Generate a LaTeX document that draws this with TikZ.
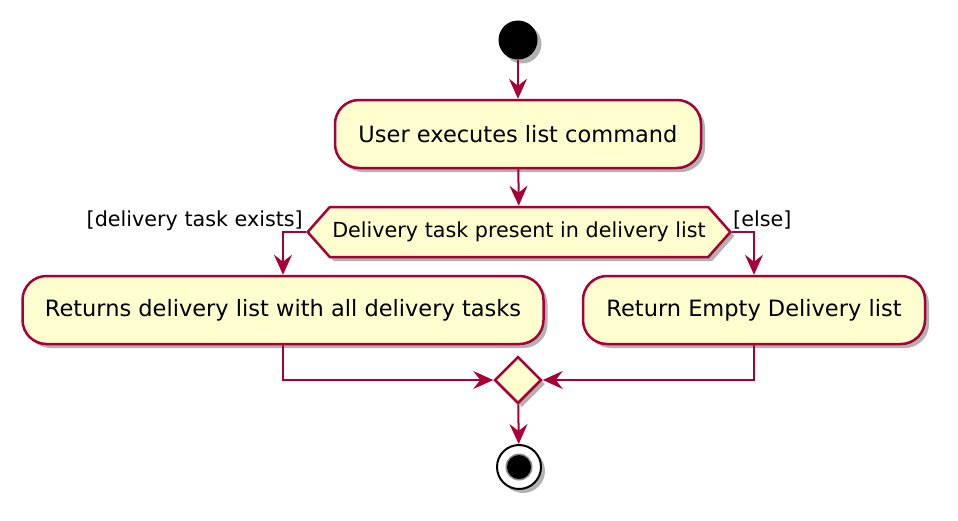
\documentclass[tikz,border=0pt]{standalone}
\usepackage{fontspec}
\setmainfont{DejaVu Sans}
\usetikzlibrary{arrows.meta,shapes.geometric,shapes.symbols,shadows}
\definecolor{umlfill}{HTML}{FEFECE}
\definecolor{umlline}{HTML}{A80036}
\begin{document}
\begin{tikzpicture}[x=1pt,y=-1pt,
    shade/.style={drop shadow={shadow xshift=4pt,shadow yshift=-4pt,opacity=0.3,fill=black}},
    activity/.style={draw=umlline,fill=umlfill,line width=2.5pt,rounded corners=24pt,shade,minimum height=68pt,font=\fontsize{22.5}{27}\selectfont},
    decision/.style={signal,signal to=west and east,signal pointer angle=97,draw=umlline,fill=umlfill,line width=2.5pt,shade,inner xsep=2.5pt,minimum height=50pt,font=\fontsize{20.7}{25}\selectfont},
    merger/.style={diamond,draw=umlline,fill=umlfill,line width=2.5pt,shade,inner sep=0pt,minimum width=47pt,minimum height=47pt},
    guard/.style={font=\fontsize{20.7}{25}\selectfont,inner sep=0pt},
    flow/.style={draw=umlline,line width=2pt,-{Stealth[length=20pt,width=18pt,inset=7pt]}}]
  \useasboundingbox (0,0) rectangle (958,520);
  \node[circle,fill=black,minimum size=39pt,inner sep=0pt,shade] (start) at (518,40) {};
  \node[activity,minimum width=366pt] (act1) at (518,134) {User executes list command};
  \node[decision] (dec) at (519,232) {Delivery task present in delivery list};
  \node[activity,minimum width=521pt] (act2) at (283,310) {Returns delivery list with all delivery tasks};
  \node[activity,minimum width=342pt] (act3) at (754,310) {Return Empty Delivery list};
  \node[merger] (merge) at (518,380) {};
  \node[circle,draw=black,fill=white,line width=2pt,minimum size=44pt,inner sep=0pt,shade] (stop) at (519,467) {};
  \fill[black!45] (stop.center) circle[radius=13.5pt];
  \fill[black] (stop.center) circle[radius=12pt];
  \node[guard,anchor=base east] (yes) at (303,226) {[delivery task exists]};
  \node[guard,anchor=base west] (no) at (733,226) {[else]};
  \draw[flow] (start) -- (act1);
  \draw[flow] (act1) -- (dec);
  \draw[flow] (dec.west) -| (act2);
  \draw[flow] (dec.east) -| (act3);
  \draw[flow] (act2) |- (merge);
  \draw[flow] (act3) |- (merge);
  \draw[flow] (merge) -- (stop);
\end{tikzpicture}
\end{document}
